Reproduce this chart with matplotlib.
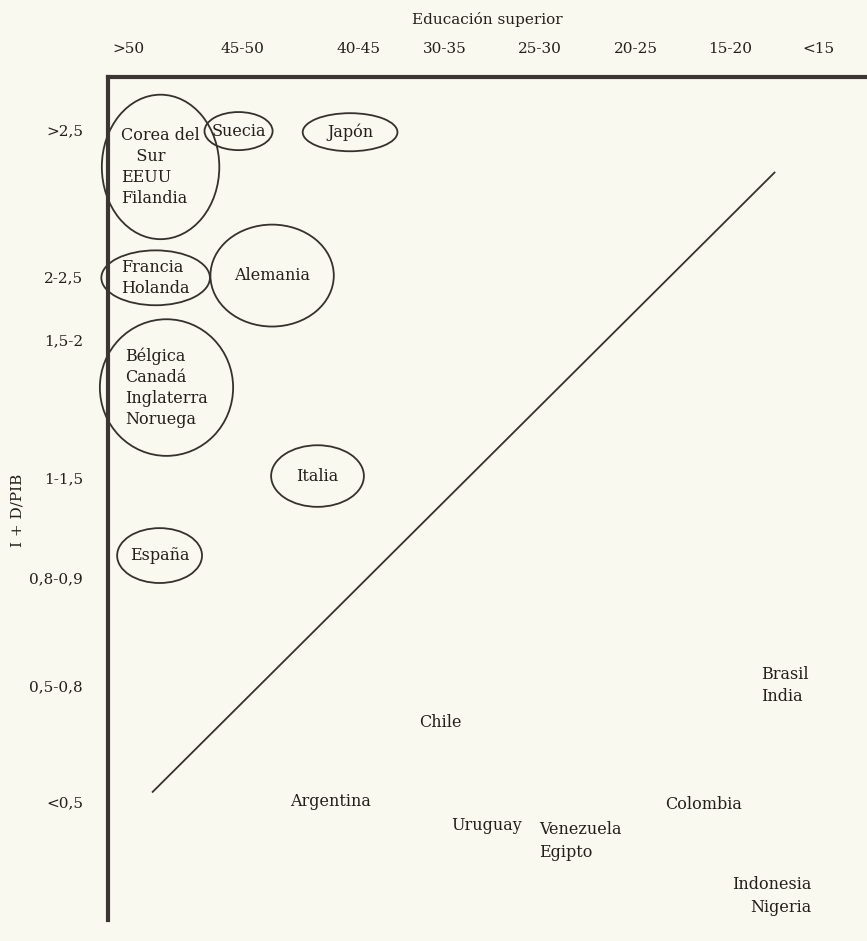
import matplotlib.pyplot as plt
from matplotlib.patches import Ellipse

plt.rcParams['font.family'] = ['DejaVu Serif']

edu_levels = ['>50', '45-50', '40-45', '30-35', '25-30', '20-25', '15-20', '<15']
rd_levels = ['>2,5', '2-2,5', '1,5-2', '1-1,5', '0,8-0,9', '0,5-0,8', '<0,5']

# donde caen las etiquetas de cada categoria (unidades de categoria)
edu_tick_pos = [0, 1.155, 2.34, 3.21, 4.17, 5.15, 6.10, 7.0]
rd_tick_pos = [0, 1.31, 1.875, 3.11, 4.0, 4.96, 6.0]

# paises agrupados dentro de una elipse
circled_names = ['Corea del\n   Sur\nEEUU\nFilandia', 'Suecia', 'Japón',
                 'Francia\nHolanda', 'Alemania',
                 'Bélgica\nCanadá\nInglaterra\nNoruega', 'Italia', 'España']
circled_edu = [0.33, 1.12, 2.25, 0.28, 1.46, 0.39, 1.92, 0.32]
circled_rd = [0.33, 0.01, 0.02, 1.32, 1.30, 2.30, 3.09, 3.80]

# paises sin elipse
free_names = ['Brasil\nIndia', 'Chile', 'Argentina', 'Colombia', 'Uruguay',
              'Venezuela\nEgipto', 'Indonesia\nNigeria']
free_edu = [6.66, 3.16, 2.05, 5.83, 3.63, 4.58, 6.52]
free_rd = [4.96, 5.29, 6.0, 6.02, 6.21, 6.35, 6.84]

# recta diagonal
diag_edu = [0.25, 6.55]
diag_rd = [5.91, 0.38]

# tamaño de las elipses y alineacion de los textos
ell_w = [1.19, 0.69, 0.96, 1.10, 1.25, 1.35, 0.94, 0.86]
ell_h = [1.29, 0.34, 0.34, 0.49, 0.91, 1.22, 0.55, 0.49]
free_align = ['left', 'center', 'center', 'center', 'center', 'left', 'right']

ink = '#231f1b'
paper = '#faf9f0'

fig = plt.figure(figsize=(8.67, 9.41), dpi=100, facecolor=paper)
ax = fig.add_axes([108 / 867, 1 - 920 / 941, 1 - 108 / 867, (920 - 77) / 941])
ax.set_facecolor('none')
ax.set_xlim(-0.2026, 7.487)
ax.set_ylim(7.054, -0.473)

for s in ['right', 'bottom']:
    ax.spines[s].set_visible(False)
for s in ['left', 'top']:
    ax.spines[s].set_linewidth(3)
    ax.spines[s].set_color('#3b3632')
    ax.spines[s].set_capstyle('projecting')

ax.xaxis.tick_top()
ax.set_xticks(edu_tick_pos)
ax.set_xticklabels(edu_levels)
ax.set_yticks(rd_tick_pos)
ax.set_yticklabels(rd_levels)
ax.tick_params(axis='x', length=0, pad=15, labelsize=11, labelcolor=ink)
ax.tick_params(axis='y', length=0, pad=18, labelsize=11, labelcolor=ink)

ax.xaxis.set_label_position('top')
ax.set_xlabel('Educación superior', fontsize=11, color=ink, labelpad=13)
ax.set_ylabel('I + D/PIB', fontsize=11, color=ink)
ax.yaxis.set_label_coords(-0.11, 0.486)

for name, x, y, w, h in zip(circled_names, circled_edu, circled_rd, ell_w, ell_h):
    ax.add_patch(Ellipse((x, y), w, h, fill=False, edgecolor='#35312d',
                         linewidth=1.3, clip_on=False))
    ax.text(x, y, name, ha='center', va='center', ma='left', fontsize=11.5,
            color=ink, linespacing=1.3)

for name, x, y, al in zip(free_names, free_edu, free_rd, free_align):
    ax.text(x, y, name, ha='center', va='center', ma=al, fontsize=11.5,
            color=ink, linespacing=1.45)

ax.plot(diag_edu, diag_rd, color='#35312d', linewidth=1.3)

fig.savefig('out.png', dpi=100, facecolor=paper)
